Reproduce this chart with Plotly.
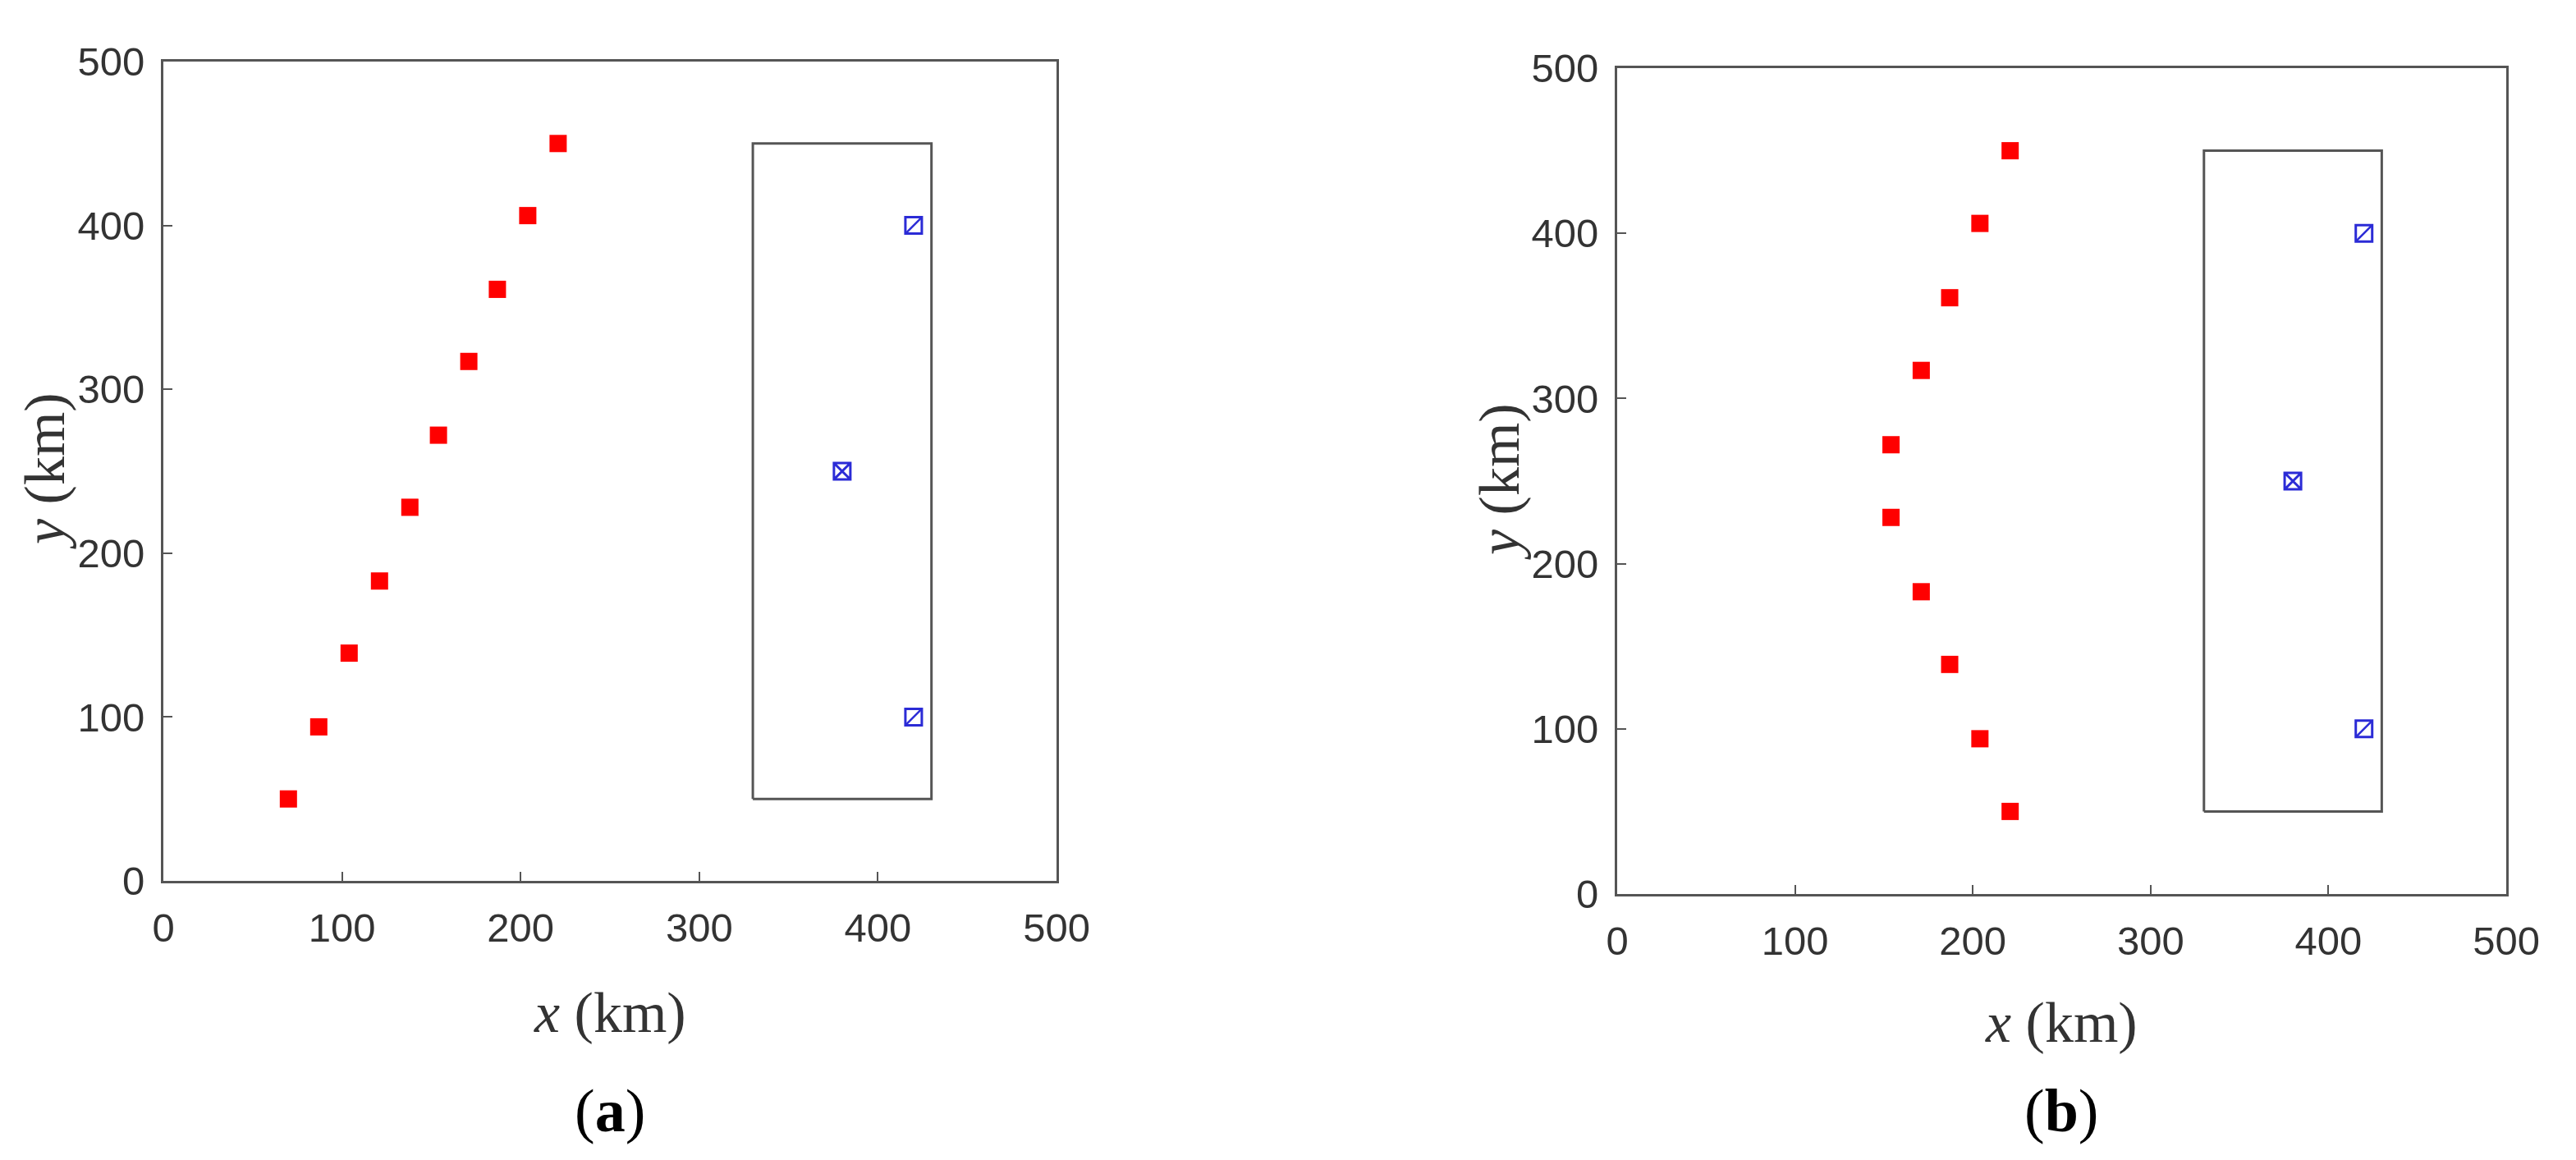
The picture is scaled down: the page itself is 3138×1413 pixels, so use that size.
"""Two-panel scatter: red points vs. blue points inside a rectangle"""
import plotly.graph_objects as go

# red squares, panel (a) and (b)
red_y = [50, 94, 139, 183, 228, 272, 317, 361, 406, 450]
red_x_a = [70, 87, 104, 121, 138, 154, 171, 187, 204, 221]
red_x_b = [221, 204, 187, 171, 154, 154, 171, 187, 204, 221]

# blue markers (same in both panels)
cross_x = [380]
cross_y = [250]
slash_x = [420, 420]
slash_y = [400, 100]

# rectangle bounds
rect_x = [330, 430]
rect_y = [50, 450]

tick_vals = [0, 100, 200, 300, 400, 500]

AXIS_COLOR = "#555555"
BLUE = "#2b2bd6"
TICK_FONT = dict(family="Liberation Sans, Arial", size=49, color="#333333")

fig = go.Figure()

panels = [("x", "y", red_x_a), ("x2", "y2", red_x_b)]
for xa, ya, red_x in panels:
    # rectangle outline
    fig.add_trace(go.Scatter(
        x=[rect_x[0], rect_x[1], rect_x[1], rect_x[0], rect_x[0]],
        y=[rect_y[0], rect_y[0], rect_y[1], rect_y[1], rect_y[0]],
        mode="lines", line=dict(color=AXIS_COLOR, width=3),
        xaxis=xa, yaxis=ya, showlegend=False, hoverinfo="skip"
    ))
    fig.add_trace(go.Scatter(
        x=red_x, y=red_y, mode="markers",
        marker=dict(symbol="square", size=21, color="#ff0000"),
        xaxis=xa, yaxis=ya, showlegend=False
    ))
    fig.add_trace(go.Scatter(
        x=cross_x, y=cross_y, mode="markers",
        marker=dict(symbol="square-x-open", size=20, color=BLUE,
                    line=dict(width=3, color=BLUE)),
        xaxis=xa, yaxis=ya, showlegend=False
    ))
    fig.add_trace(go.Scatter(
        x=slash_x, y=slash_y, mode="markers",
        marker=dict(symbol="square-open", size=20, color=BLUE,
                    line=dict(width=3, color=BLUE)),
        xaxis=xa, yaxis=ya, showlegend=False
    ))
    fig.add_trace(go.Scatter(
        x=slash_x, y=slash_y, mode="markers",
        marker=dict(symbol="line-ne", size=18, color=BLUE,
                    line=dict(width=2.5, color=BLUE)),
        xaxis=xa, yaxis=ya, showlegend=False
    ))

W, H = 3138, 1413
OFF = 8  # page body margin


def px(v):
    return (v - OFF) / W


def py(v):
    return 1 - (v - OFF) / H


domains = {
    "a": dict(x=[px(199), px(1287)], y=[py(1073), py(75)]),
    "b": dict(x=[px(1970), px(3053)], y=[py(1089), py(83)]),
}

axis_common = dict(
    range=[0, 500], tickvals=tick_vals, showgrid=False, zeroline=False,
    showline=True, linecolor=AXIS_COLOR, linewidth=3, mirror=True,
    ticks="inside", ticklen=11, tickwidth=2, tickcolor=AXIS_COLOR,
    tickfont=TICK_FONT, automargin=False,
)

fig.update_layout(
    width=W, height=H,
    margin=dict(l=0, r=0, t=0, b=0, pad=0, autoexpand=False),
    paper_bgcolor="white", plot_bgcolor="white",
    xaxis=dict(domain=domains["a"]["x"], anchor="y", ticklabelstandoff=12, **axis_common),
    yaxis=dict(domain=domains["a"]["y"], anchor="x", ticklabelstandoff=10, **axis_common),
    xaxis2=dict(domain=domains["b"]["x"], anchor="y2", ticklabelstandoff=12, **axis_common),
    yaxis2=dict(domain=domains["b"]["y"], anchor="x2", ticklabelstandoff=10, **axis_common),
)

serif = "Liberation Serif, Times New Roman, serif"
titles = [
    # x titles
    dict(x=px(743), y=py(1233), text="<i>x</i> (km)", textangle=0),
    dict(x=px(2511), y=py(1245), text="<i>x</i> (km)", textangle=0),
    # y titles
    dict(x=px(54), y=py(574), text="<i>y</i> (km)", textangle=-90),
    dict(x=px(1826), y=py(586), text="<i>y</i> (km)", textangle=-90),
]
for t in titles:
    fig.add_annotation(xref="paper", yref="paper", showarrow=False,
                       xanchor="center", yanchor="middle",
                       font=dict(family=serif, size=70, color="#333333"), **t)

captions = [(743, "(<b>a</b>)"), (2511, "(<b>b</b>)")]
for cx, txt in captions:
    fig.add_annotation(xref="paper", yref="paper", x=px(cx), y=py(1353),
                       text=txt, showarrow=False, xanchor="center", yanchor="middle",
                       font=dict(family=serif, size=74, color="black"))

fig.write_html("out.html")
